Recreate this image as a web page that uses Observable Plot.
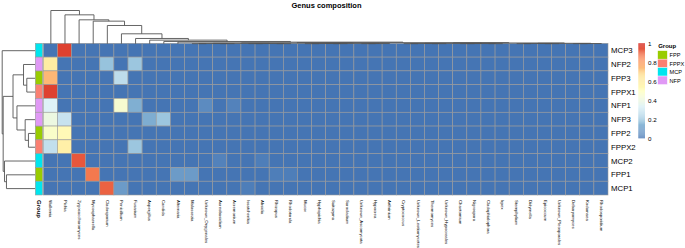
<!DOCTYPE html>
<html><head><meta charset="utf-8">
<script src="https://cdn.jsdelivr.net/npm/d3@7"></script>
<script src="https://cdn.jsdelivr.net/npm/@observablehq/plot@0.6"></script>
<style>body{margin:0;background:#fff;} svg{display:block;}</style>
</head><body><div id="chart"></div>
<script>
const title = "Genus composition";
const rowLabels = ["MCP3","NFP2","FPP3","FPPX1","NFP1","NFP3","FPP2","FPPX2","MCP2","FPP1","MCP1"];
const rowGroups = ["MCP","NFP","FPP","FPPX","NFP","NFP","FPP","FPPX","MCP","FPP","MCP"];
const groupNames = ["FPP","FPPX","MCP","NFP"];
const groupColors = ["#99CC00","#FA8072","#00E5EE","#E099F5"];
const colLabels = ["Wallemia","Pichia","Zygosaccharomyces","Mycosphaerella","Cladosporium","Penicillium","Fusarium","Aspergillus","Candida","Alternaria","Malassezia","Unknown_Onygenales","Aureobasidium","Acremonium","Issatchenkia","Absidia","Rhizopus","Rhodotorula","Mucor","Hyphopichia","Saitozyma","Sarocladium","Unknown_Ascomycota","Hypocrea","Arthrinium","Cryptococcus","Unknown_Leotiomycetes","Thermomyces","Unknown_Hypocreales","Chaetomium","Nigrospora","Cladophialophora","Irpex","Stemphylium","Didymella","Epicoccum","Unknown_Pleosporales","Debaryomyces","Kodamaea","Rhodosporidium"];

const vMCP3  = [0,0.97,0,0,0,0,0,0,0,0, 0,0,0,0,0,0,0,0,0,0, 0,0,0,0,0,0,0,0,0,0, 0,0,0,0,0,0,0,0,0,0];
const vNFP2  = [0.6,0,0,0,0.18,0,0.19,0,0,0, 0,0,0,0,0,0,0,0,0,0, 0,0,0,0,0,0,0,0,0,0, 0,0,0,0,0,0,0,0,0,0];
const vFPP3  = [0.75,0,0,0,0,0.26,0,0,0,0, 0,0,0,0,0,0,0,0,0,0, 0,0,0,0,0,0,0,0,0,0, 0,0,0,0,0,0,0,0,0,0];
const vFPPX1 = [0.97,0,0,0,0,0,0,0,0,0, 0,0,0,0,0,0,0,0,0,0, 0,0,0,0,0,0,0,0,0,0, 0,0,0,0,0,0,0,0,0,0];
const vNFP1  = [0.33,0,0,0,0,0.45,0.13,0,0,0, 0,0.05,0,0.03,0,0,0,0,0,0, 0,0,0,0,0,0,0,0,0,0, 0,0,0,0,0,0,0,0,0,0];
const vNFP3  = [0.40,0.28,0,0,0,0,0,0.125,0.19,0, 0,0,0,0,0,0,0,0,0,0, 0,0,0,0,0,0,0,0,0,0, 0,0,0,0,0,0,0,0,0,0];
const vFPP2  = [0.47,0.53,0,0,0,0,0,0,0,0, 0,0,0,0,0,0,0,0,0,0, 0,0,0,0,0,0,0,0,0,0, 0,0,0,0,0,0,0,0,0,0];
const vFPPX2 = [0.27,0.58,0,0,0,0,0.19,0,0,0, 0,0,0,0,0,0,0,0,0,0, 0,0,0,0,0,0,0,0,0,0, 0,0,0,0,0,0,0,0,0,0];
const vMCP2  = [0,0,0.93,0,0,0,0,0,0,0, 0,0,0.03,0,0,0.02,0,0,0,0, 0,0,0,0,0,0,0,0,0,0, 0,0,0,0,0,0,0,0,0,0];
const vFPP1  = [0,0,0,0.87,0,0,0,0,0,0.085, 0.085,0,0,0,0,0,0.02,0.02,0,0, 0,0,0,0,0,0,0,0,0,0, 0,0,0,0,0,0,0,0,0,0];
const vMCP1  = [0,0,0,0,0.91,0.085,0,0,0,0, 0,0,0,0,0.02,0,0,0,0,0, 0,0,0,0,0,0,0,0,0,0, 0,0,0,0,0,0,0,0,0,0];
const values = [vMCP3,vNFP2,vFPP3,vFPPX1,vNFP1,vNFP3,vFPP2,vFPPX2,vMCP2,vFPP1,vMCP1];

const legendTicks = [0,0.2,0.4,0.6,0.8,1];
const heatColors = ["#4575B4","#91BFDB","#E0F3F8","#FFFFBF","#FEE090","#FC8D59","#D73027"];

// row dendrogram: [height, left, right], leaves = row index
const rowTree = [1.0, 0, [0.97, [0.67, [0.35, 1, [0.25, 2, 3]], [0.55, 4, [0.30, 5, [0.20, 6, 7]]]], [0.93, 8, [0.87, 9, 10]]]];
// column dendrogram: chain of leading columns then a low cluster of the rest
const colChainHeights = [1.0,0.87,0.72,0.68,0.55,0.30,0.16,0.11,0.07,0.05];
const colTailHeights = [0.035,0.025,0.015,0.008,0.004,0];

// ---- layout ----
const W = 685, H = 248;
const X0 = 43.3, X1 = 608, Y0 = 43.3, Y1 = 195;
const cw = (X1 - X0) / colLabels.length, ch = (Y1 - Y0) / rowLabels.length;
const ux = px => (px - X0) / cw, uy = px => (px - Y0) / ch;

function tail(lo, hi, depth) {
  if (lo === hi) return lo;
  const mid = Math.floor((lo + hi) / 2);
  return [colTailHeights[Math.min(depth, colTailHeights.length - 1)], tail(lo, mid, depth + 1), tail(mid + 1, hi, depth + 1)];
}
let colTree = tail(colChainHeights.length, colLabels.length - 1, 0);
for (let k = colChainHeights.length - 1; k >= 0; k--) colTree = [colChainHeights[k], k, colTree];

function dendro(tree) {
  const segs = [];
  (function walk(n) {
    if (typeof n === "number") return {p: n + 0.5, h: 0};
    const [h, a, b] = n;
    const A = walk(a), B = walk(b);
    segs.push({p1: A.p, h1: A.h, p2: A.p, h2: h});
    segs.push({p1: B.p, h1: B.h, p2: B.p, h2: h});
    segs.push({p1: A.p, h1: h, p2: B.p, h2: h});
    return {p: (A.p + B.p) / 2, h};
  })(tree);
  return segs;
}
const rowSegs = dendro(rowTree), colSegs = dendro(colTree);
const rowDX = h => ux(34.5 - 32.8 * h);
const colDY = h => uy(43.3 - 33.3 * h);

const cells = [];
values.forEach((row, r) => row.forEach((v, c) => cells.push({r, c, v})));

const legSteps = d3.range(0, 1, 0.01);
const legY = v => uy(138.3 - 95 * v);
const gridStroke = "#9a9a9a";

const groupBarMarks = groupNames.map((g, gi) =>
  Plot.rect(rowLabels.map((_, i) => i).filter(i => rowGroups[i] === g), {
    x1: () => ux(35.3), x2: () => ux(42.6), y1: i => i, y2: i => i + 1,
    fill: groupColors[gi], stroke: gridStroke, strokeWidth: 0.6
  }));
const groupLegMarks = groupNames.map((g, gi) =>
  Plot.rect([gi], {
    x1: () => ux(657.7), x2: () => ux(667.3), y1: i => uy(50.7 + 8.45 * i), y2: i => uy(50.7 + 8.45 * (i + 1)),
    fill: groupColors[gi], stroke: "#ffffff", strokeWidth: 0.4
  }));

const chart = Plot.plot({
  width: W, height: H,
  marginTop: 0, marginBottom: 0, marginLeft: 0, marginRight: 0,
  style: {fontFamily: "'Liberation Sans', Arial, sans-serif", background: "#fff"},
  x: {domain: [0, colLabels.length], range: [X0, X1], axis: null},
  y: {domain: [0, rowLabels.length], range: [Y0, Y1], axis: null},
  color: {type: "linear", domain: heatColors.map((_, i) => i / (heatColors.length - 1)), range: heatColors, interpolate: "rgb"},
  marks: [
    Plot.rect(cells, {x1: "c", x2: d => d.c + 1, y1: "r", y2: d => d.r + 1, fill: "v", stroke: gridStroke, strokeWidth: 0.6}),
    ...groupBarMarks,
    Plot.link(rowSegs, {x1: d => rowDX(d.h1), y1: "p1", x2: d => rowDX(d.h2), y2: "p2", stroke: "#555", strokeWidth: 0.9}),
    Plot.link(colSegs, {x1: "p1", y1: d => colDY(d.h1), x2: "p2", y2: d => colDY(d.h2), stroke: "#555", strokeWidth: 0.9}),
    Plot.text(rowLabels, {x: () => colLabels.length, y: (d, i) => i + 0.5, text: d => d, textAnchor: "start", dx: 2.5, fontSize: 7.8, fill: "#000"}),
    Plot.text(colLabels, {x: (d, i) => i + 0.5, y: () => uy(199.5), text: d => d, rotate: 90, textAnchor: "start", fontSize: 4.3, fill: "#000"}),
    Plot.text(["Group"], {x: () => ux(38.9), y: () => uy(199.5), text: d => d, rotate: 90, textAnchor: "start", fontSize: 6, fontWeight: "bold", fill: "#000"}),
    Plot.text([title], {x: () => ux(326), y: () => uy(5.5), text: d => d, fontSize: 7.5, fontWeight: "bold", fill: "#000"}),
    Plot.rect(legSteps, {x1: () => ux(638.3), x2: () => ux(645), y1: v => legY(v), y2: v => legY(v + 0.01) , fill: v => v + 0.005}),
    Plot.text(legendTicks, {x: () => ux(647.5), y: v => legY(v), text: v => String(v), textAnchor: "start", fontSize: 6.2, fill: "#000"}),
    Plot.text(["Group"], {x: () => ux(657.7), y: () => uy(46), text: d => d, textAnchor: "start", fontSize: 6, fontWeight: "bold", fill: "#000"}),
    ...groupLegMarks,
    Plot.text(groupNames, {x: () => ux(669), y: (d, i) => uy(50.7 + 8.45 * (i + 0.5)), text: d => d, textAnchor: "start", fontSize: 5.6, fill: "#000"})
  ]
});
document.getElementById("chart").appendChild(chart);
</script>
</body></html>
